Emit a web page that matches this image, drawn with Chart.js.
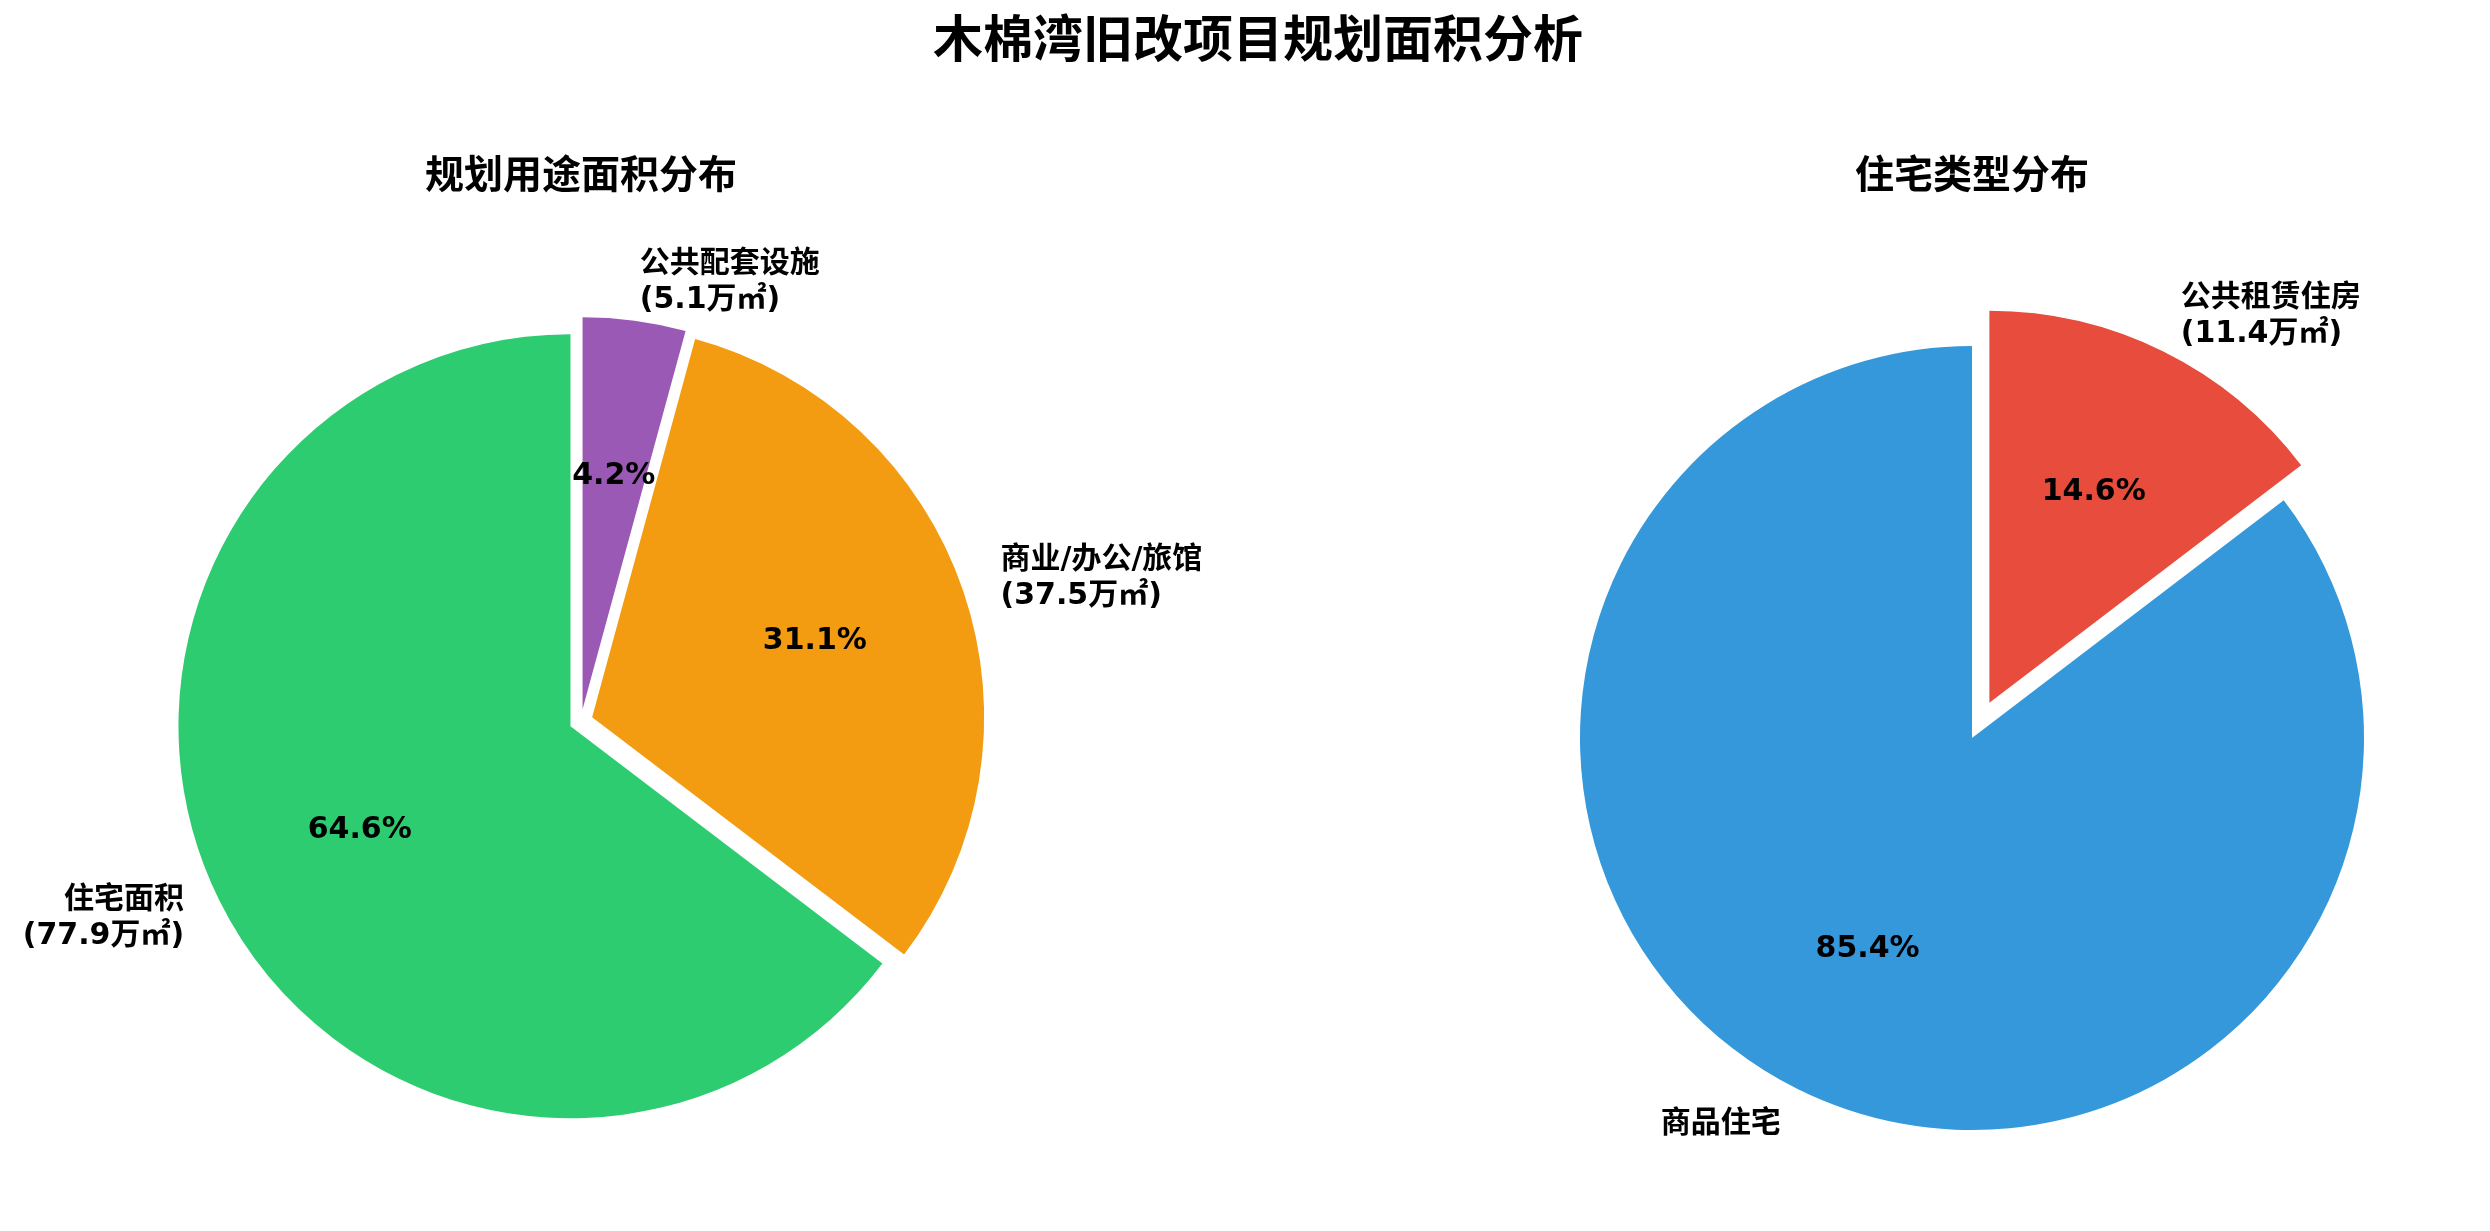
<!DOCTYPE html>
<html>
<head>
<meta charset="utf-8">
<script src="https://cdn.jsdelivr.net/npm/chart.js@4.4.0/dist/chart.umd.min.js"></script>
<style>
    body { margin: 0; background: #fff; width: 2490px; height: 1231px; overflow: hidden; position: relative; }
    #suptitle {
        position: absolute; left: 1258px; top: 15px; transform: translateX(-50%);
        white-space: nowrap; font-family: "DejaVu Sans", "Noto Sans CJK SC", sans-serif;
        font-weight: bold; font-size: 50px; line-height: 50px; color: #000;
    }
    canvas { position: absolute; }
</style>
</head>
<body>
    <div id="suptitle">木棉湾旧改项目规划面积分析</div>
    <canvas id="useChart" width="1400" height="1231" style="left:0px; top:0px"></canvas>
    <canvas id="houseChart" width="1036" height="1231" style="left:1454px; top:0px"></canvas>
    <script>
        // 规划用途 (clockwise from 12 o'clock)
        const useCats = ['公共配套设施', '商业/办公/旅馆', '住宅面积'];
        const useAreas = [5.1, 37.5, 77.9];   // 万㎡
        const useColors = ['#9b59b6', '#f39c12', '#2ecc71'];
        const useExplode = [0.03, 0.03, 0.03];

        // 住宅类型
        const houseCats = ['公共租赁住房', '商品住宅'];
        const houseAreas = [11.4, 66.5];      // 万㎡
        const houseShowArea = [true, false];
        const houseColors = ['#e74c3c', '#3498db'];
        const houseExplode = [0.1, 0];

        const FONT_FAMILY = '"DejaVu Sans", "Noto Sans CJK SC", sans-serif';
        const TEXT_FONT = 'bold 30px ' + FONT_FAMILY;

        // moves exploded wedges out and writes labels / percentages like matplotlib does
        function pieText(explode, labels) {
            return {
                id: 'pieText',
                afterDatasetUpdate(chart, args) {
                    args.meta.data.forEach((arc, i) => {
                        const mid = (arc.startAngle + arc.endAngle) / 2;
                        const d = (explode[i] || 0) * arc.outerRadius;
                        arc.x += Math.cos(mid) * d;
                        arc.y += Math.sin(mid) * d;
                    });
                },
                afterDatasetsDraw(chart) {
                    const ctx = chart.ctx;
                    const meta = chart.getDatasetMeta(0);
                    const vals = chart.data.datasets[0].data;
                    const total = vals.reduce((a, b) => a + b, 0);
                    ctx.save();
                    ctx.fillStyle = '#000';
                    ctx.font = TEXT_FONT;
                    ctx.textBaseline = 'middle';
                    meta.data.forEach((arc, i) => {
                        const mid = (arc.startAngle + arc.endAngle) / 2;
                        const r = arc.outerRadius;
                        const c = Math.cos(mid), s = Math.sin(mid);
                        ctx.textAlign = 'center';
                        ctx.fillText((vals[i] / total * 100).toFixed(1) + '%', arc.x + c * r * 0.6, arc.y + s * r * 0.6);
                        const lines = labels[i];
                        const lx = arc.x + c * r * 1.1, ly = arc.y + s * r * 1.1;
                        ctx.textAlign = c > 0 ? 'left' : 'right';
                        lines.forEach((t, k) => ctx.fillText(t, lx, ly + (k - (lines.length - 1) / 2) * 36));
                    });
                    ctx.restore();
                }
            };
        }

        function makePie(id, cats, values, colors, explode, labels, title, padRight, padBottom) {
            return new Chart(document.getElementById(id), {
                type: 'pie',
                data: {
                    labels: cats,
                    datasets: [{
                        data: values,
                        backgroundColor: colors,
                        borderWidth: 0,
                        hoverOffset: 0
                    }]
                },
                options: {
                    responsive: false,
                    animation: false,
                    events: [],
                    radius: 392,
                    layout: { padding: { left: 0, right: padRight, top: 0, bottom: 0 } },
                    plugins: {
                        legend: { display: false },
                        tooltip: { enabled: false },
                        title: {
                            display: true,
                            text: title,
                            color: '#000',
                            font: { family: FONT_FAMILY, size: 39, weight: 'bold' },
                            padding: { top: 154.6, bottom: padBottom }
                        }
                    }
                },
                plugins: [pieText(explode, labels)]
            });
        }

        const useLabels = useCats.map((c, i) => [c, '(' + useAreas[i] + '万㎡)']);
        const houseLabels = houseCats.map((c, i) => houseShowArea[i] ? [c, '(' + houseAreas[i] + '万㎡)'] : [c]);

        makePie('useChart', useCats, useAreas, useColors, useExplode, useLabels, '规划用途面积分布', 238, 9.6);
        makePie('houseChart', houseCats, houseAreas, houseColors, houseExplode, houseLabels, '住宅类型分布', 0, 43.6);
    </script>
</body>
</html>
